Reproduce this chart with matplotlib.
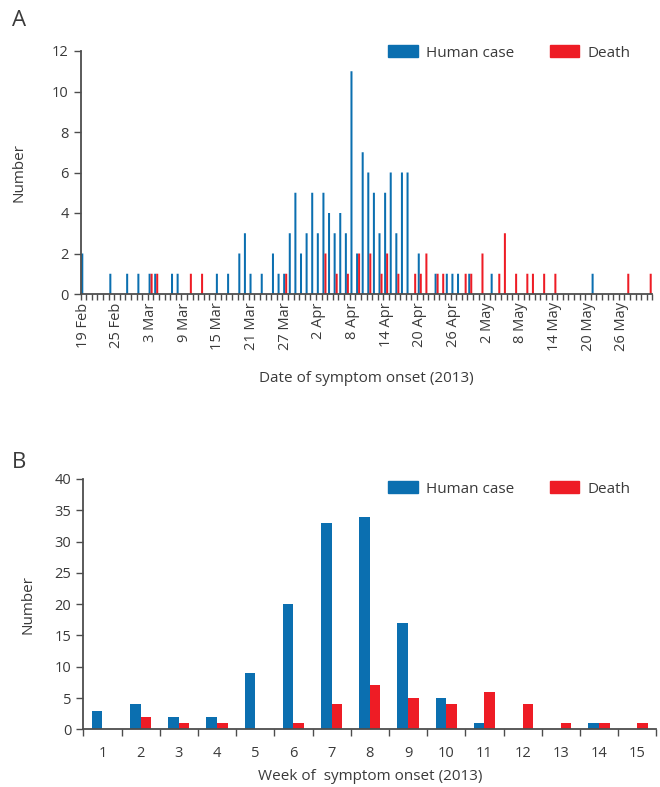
import matplotlib
matplotlib.use("Agg")
import matplotlib.pyplot as plt
import numpy as np
from matplotlib.patches import Patch

plt.rcParams['font.family'] = ['Open Sans', 'DejaVu Sans']

BLUE = '#0b6fb0'
RED = '#ee1c25'
TXT = '#3a3a3a'
AX = '#4d4d4d'

# ---- Panel A data: day index from 19 Feb 2013 (0) to 31 May 2013 (101)
n_days = 102
case_days = [0, 5, 8, 10, 12, 13, 16, 17, 24, 26, 28, 29, 30, 32, 34, 35, 36, 37, 38, 39,
             40, 41, 42, 43, 44, 45, 46, 47, 48, 49, 50, 51, 52, 53, 54, 55, 56, 57, 58,
             60, 63, 65, 66, 67, 69, 73, 91]
case_counts = [2, 1, 1, 1, 1, 1, 1, 1, 1, 1, 2, 3, 1, 1, 2, 1, 1, 3, 5, 2,
               3, 5, 3, 5, 4, 3, 4, 3, 11, 2, 7, 6, 5, 3, 5, 6, 3, 6, 6,
               2, 1, 1, 1, 1, 1, 1, 1]
death_days = [12, 13, 19, 21, 36, 43, 45, 47, 49, 51, 53, 54, 56, 59, 60, 61, 63, 64,
              68, 69, 71, 74, 75, 77, 79, 80, 82, 84, 97, 101]
death_counts = [1, 1, 1, 1, 1, 2, 1, 1, 2, 2, 1, 2, 1, 1, 1, 2, 1, 1,
                1, 1, 2, 1, 3, 1, 1, 1, 1, 1, 1, 1]
date_tick_days = [0, 6, 12, 18, 24, 30, 36, 42, 48, 54, 60, 66, 72, 78, 84, 90, 96]
date_tick_labels = ['19 Feb', '25 Feb', '3 Mar', '9 Mar', '15 Mar', '21 Mar', '27 Mar',
                    '2 Apr', '8 Apr', '14 Apr', '20 Apr', '26 Apr', '2 May', '8 May',
                    '14 May', '20 May', '26 May']

# ---- Panel B data
weeks = ['1', '2', '3', '4', '5', '6', '7', '8', '9', '10', '11', '12', '13', '14', '15']
week_cases = [3, 4, 2, 2, 9, 20, 33, 34, 17, 5, 1, 0, 0, 1, 0]
week_deaths = [0, 2, 1, 1, 0, 1, 4, 7, 5, 4, 6, 4, 1, 1, 1]

daily_cases = np.zeros(n_days)
daily_cases[case_days] = case_counts
daily_deaths = np.zeros(n_days)
daily_deaths[death_days] = death_counts

fig = plt.figure(figsize=(6.6, 7.87), dpi=100)


def style_axes(ax):
    for s in ['top', 'right']:
        ax.spines[s].set_visible(False)
    for s in ['left', 'bottom']:
        ax.spines[s].set_color(AX)
        ax.spines[s].set_linewidth(1.3)
    ax.tick_params(axis='y', colors=AX, labelcolor=TXT, labelsize=10.5, length=5, width=1)


def add_legend(ax, y_px):
    handles = [Patch(color=BLUE, label='Human case'), Patch(color=RED, label='Death')]
    ax.legend(handles=handles, loc='center left', bbox_to_anchor=(388 / 660, 1 - y_px / 787),
              bbox_transform=fig.transFigure, ncol=2, frameon=False, fontsize=11,
              handlelength=1.95, handleheight=0.85, columnspacing=2.3,
              handletextpad=0.55, borderpad=0, borderaxespad=0, labelcolor=TXT)


# ---- Panel A
axA = fig.add_axes([80.5 / 660, 1 - 294 / 787, 572 / 660, 243 / 787])
x = np.arange(n_days)
w = 0.36
axA.bar(x - 0.18, daily_cases, width=w, color=BLUE, linewidth=0, snap=False)
axA.bar(x + 0.18, daily_deaths, width=w, color=RED, linewidth=0, snap=False)
axA.set_xlim(-0.5, n_days - 0.5)
axA.set_ylim(0, 12)
axA.set_yticks(np.arange(0, 13, 2))
style_axes(axA)
axA.set_xticks(date_tick_days)
axA.set_xticklabels(date_tick_labels, rotation=90, fontsize=10.5, color=TXT)
axA.tick_params(axis='x', which='major', length=0, pad=6)
axA.set_xticks(np.arange(n_days + 1) - 0.5, minor=True)
axA.tick_params(axis='x', which='minor', length=4, width=1, color=AX)
axA.set_ylabel('Number', fontsize=11, color=TXT, labelpad=18)
axA.set_xlabel('Date of symptom onset (2013)', fontsize=11, color=TXT, labelpad=14)
add_legend(axA, 53)
fig.text(12 / 660, 1 - 20 / 787, 'A', fontsize=16, color=TXT, va='center', ha='left')

# ---- Panel B
axB = fig.add_axes([83.3 / 660, 1 - 729.3 / 787, 573 / 660, 250.3 / 787])
xb = np.arange(len(weeks))
wb = 0.28
axB.bar(xb - wb / 2, week_cases, width=wb, color=BLUE, linewidth=0)
axB.bar(xb + wb / 2, week_deaths, width=wb, color=RED, linewidth=0)
axB.set_xlim(-0.5, len(weeks) - 0.5)
axB.set_ylim(0, 40)
axB.set_yticks(np.arange(0, 41, 5))
style_axes(axB)
axB.set_xticks(xb)
axB.set_xticklabels(weeks, fontsize=10.5, color=TXT)
axB.tick_params(axis='x', which='major', length=0, pad=12)
axB.set_xticks(np.arange(len(weeks) + 1) - 0.5, minor=True)
axB.tick_params(axis='x', which='minor', length=5, width=1, color=AX)
axB.set_ylabel('Number', fontsize=11, color=TXT, labelpad=14)
axB.set_xlabel('Week of  symptom onset (2013)', fontsize=11, color=TXT, labelpad=6)
add_legend(axB, 489)
fig.text(12 / 660, 1 - 462 / 787, 'B', fontsize=16, color=TXT, va='center', ha='left')

fig.savefig('out.png', dpi=100)
